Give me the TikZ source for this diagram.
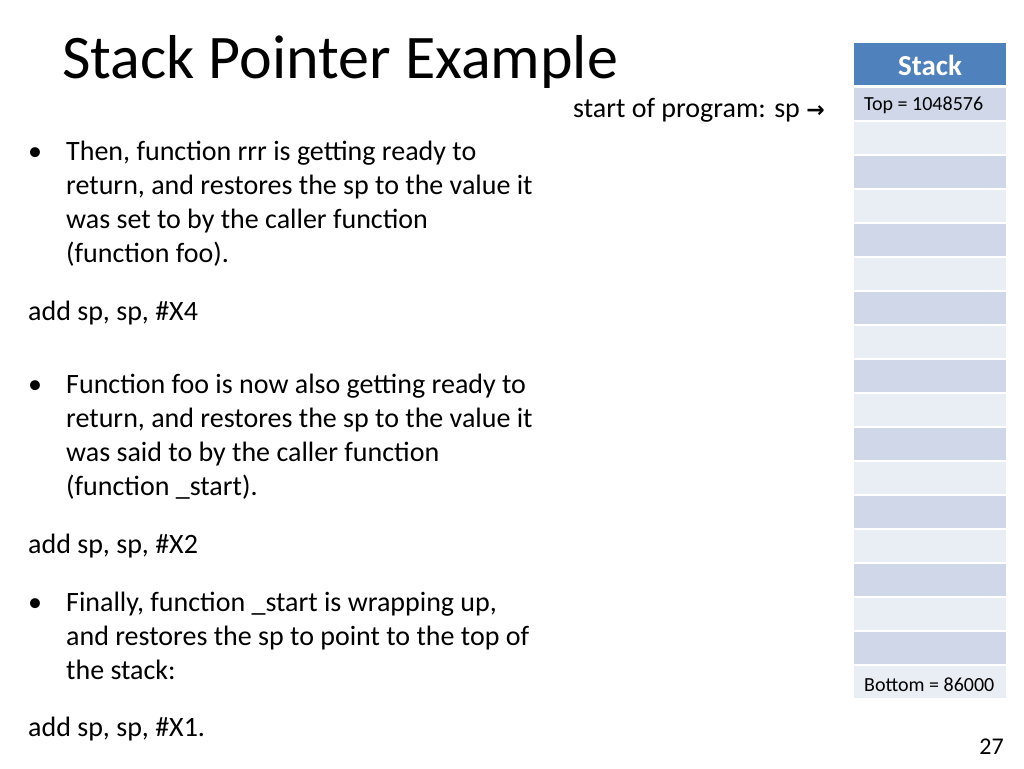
\documentclass[tikz,border=0pt]{standalone}
\usepackage{fontspec}
\setmainfont{Carlito}
\definecolor{hdr}{HTML}{4F81BD}
\definecolor{dk}{HTML}{CFD7E8}
\definecolor{lt}{HTML}{E9EDF4}
\begin{document}
\begin{tikzpicture}[x=1pt,y=-1pt,
 txt/.style={anchor=base west,inner sep=0pt,font=\fontsize{28}{34}\selectfont},
 para/.style={txt,align=flush left,text width=490pt}]
\useasboundingbox[fill=white] (0,0) rectangle (1024,768);
\node[anchor=base west,inner sep=0pt,font=\fontsize{62}{66}\selectfont] (title) at (62,78) {Stack Pointer Example};
\node[txt] (b1) at (28,160) {•};
\node[para] (p1) at (66,160) {Then, function rrr is getting ready to\\return, and restores the sp to the value it\\was set to by the caller function\\(function foo).};
\node[txt] (c1) at (28,320) {add sp, sp, \#X4};
\node[txt] (b2) at (28,393) {•};
\node[para] (p2) at (66,393) {Function foo is now also getting ready to\\return, and restores the sp to the value it\\was said to by the caller function\\(function \_start).};
\node[txt] (c2) at (28,553) {add sp, sp, \#X2};
\node[txt] (b3) at (28,611) {•};
\node[para] (p3) at (66,611) {Finally, function \_start is wrapping up,\\and restores the sp to point to the top of\\the stack:};
\node[txt] (c3) at (28,736) {add sp, sp, \#X1.};
\node[txt] (sp) at (573,117) {start of program: sp {\fontspec{DejaVu Sans}\bfseries\fontsize{22}{22}\selectfont →}};
\node[anchor=base east,inner sep=0pt,font=\fontsize{24}{24}\selectfont] (pg) at (1004,754) {27};
\fill[hdr] (854,43) rectangle (1006,85);
\node[text=white,font=\bfseries\fontsize{29}{29}\selectfont] (hd) at (930,65) {Stack};
\foreach \i in {0,...,17}{
  \pgfmathtruncatemacro{\e}{mod(\i,2)}
  \ifnum\e=0 \fill[dk] (854,{88+34*\i}) rectangle (1006,{120+34*\i});
  \else \fill[lt] (854,{88+34*\i}) rectangle (1006,{120+34*\i}); \fi
}
\node[anchor=base west,inner sep=0pt,font=\fontsize{20}{20}\selectfont] (top) at (864,110) {Top = 1048576};
\node[anchor=base west,inner sep=0pt,font=\fontsize{20}{20}\selectfont] (bot) at (864,691) {Bottom = 86000};
\end{tikzpicture}
\end{document}
